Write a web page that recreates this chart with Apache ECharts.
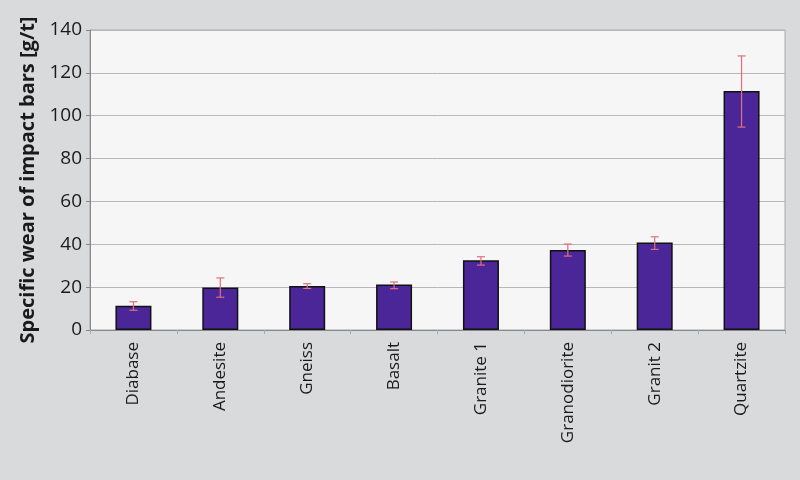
<!DOCTYPE html>
<html>
<head>
<meta charset="utf-8">
<script src="https://cdn.jsdelivr.net/npm/echarts@6/dist/echarts.min.js"></script>
<style>
html,body{margin:0;padding:0;background:#d9dadb;}
#c{width:800px;height:480px;}
</style>
</head>
<body>
<div id="c"></div>
<script>
var categories = ['Diabase','Andesite','Gneiss','Basalt','Granite 1','Granodiorite','Granit 2','Quartzite'];
var values = [11.3, 19.8, 20.5, 21.2, 32.5, 37.3, 40.8, 111.5];
var errLow = [9.2, 15.3, 19.4, 19.3, 30.3, 34.5, 37.6, 94.7];
var errHigh = [13.2, 24.3, 21.6, 22.4, 34.2, 40.1, 43.5, 127.9];
var yTicks = [0, 20, 40, 60, 80, 100, 120, 140];

var errData = categories.map(function(c, i){ return [i, errLow[i], errHigh[i]]; });

var chart = echarts.init(document.getElementById('c'));
var font = '"Open Sans", "Noto Sans", sans-serif';
chart.setOption({
  backgroundColor: '#d9dadb',
  animation: false,
  grid: {left: 90, right: 15, top: 30, bottom: 150, show: true, backgroundColor: '#f6f6f6', borderColor: '#a9a9a9', borderWidth: 1},
  xAxis: {
    type: 'category', data: categories,
    axisLine: {lineStyle: {color: '#888', width: 1}},
    axisTick: {show: true, length: 4, lineStyle: {color: '#aaa'}},
    axisLabel: {rotate: 90, fontSize: 17, color: '#1a1a1a', fontFamily: font, margin: 12}
  },
  yAxis: {
    type: 'value', min: yTicks[0], max: yTicks[yTicks.length-1], interval: 20,
    name: 'Specific wear of impact bars [g/t]', nameLocation: 'middle', nameGap: 52,
    nameTextStyle: {fontSize: 20, fontWeight: 'bold', color: '#1a1a1a', fontFamily: font},
    axisLine: {show: true, lineStyle: {color: '#888'}},
    axisTick: {show: true, length: 4, lineStyle: {color: '#888'}},
    axisLabel: {fontSize: 19, color: '#1a1a1a', fontFamily: font, margin: 8},
    splitLine: {lineStyle: {color: '#b8b8b8', width: 1}}
  },
  series: [{
    type: 'bar', data: values, barWidth: 36,
    itemStyle: {color: '#4b2699', borderColor: '#111', borderWidth: 1.5}
  }, {
    type: 'custom', data: errData, z: 10,
    renderItem: function(params, api){
      var x = api.value(0);
      var lo = api.coord([x, api.value(1)]);
      var hi = api.coord([x, api.value(2)]);
      var hw = 4;
      var st = {stroke: '#e0707a', lineWidth: 1.2};
      return {type: 'group', children: [
        {type: 'line', shape: {x1: lo[0], y1: lo[1], x2: hi[0], y2: hi[1]}, style: st},
        {type: 'line', shape: {x1: lo[0]-hw, y1: lo[1], x2: lo[0]+hw, y2: lo[1]}, style: st},
        {type: 'line', shape: {x1: hi[0]-hw, y1: hi[1], x2: hi[0]+hw, y2: hi[1]}, style: st}
      ]};
    }
  }]
});
</script>
</body>
</html>
